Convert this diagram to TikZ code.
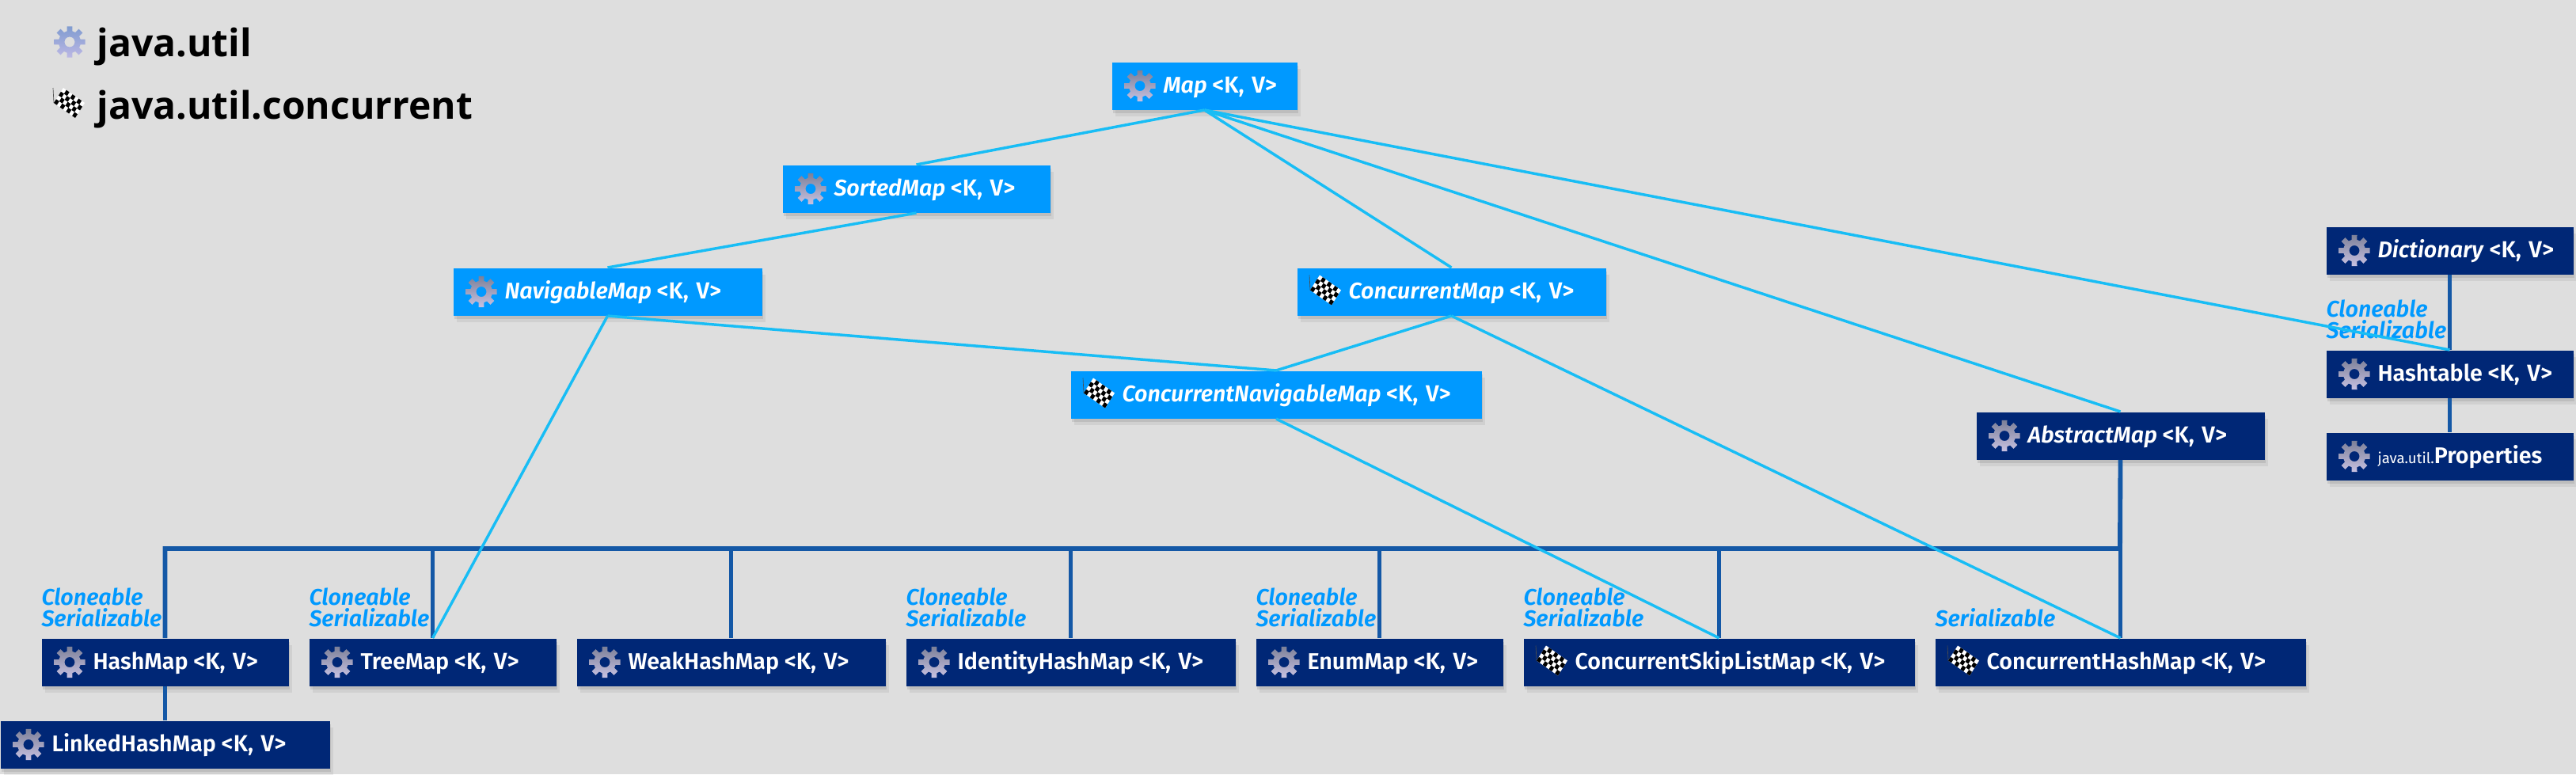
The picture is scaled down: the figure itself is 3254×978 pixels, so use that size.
\documentclass[tikz,border=0pt]{standalone}
\usepackage{fontspec}
\setmainfont{Fira Sans}[BoldFont={Fira Sans SemiBold},BoldItalicFont={Fira Sans SemiBold Italic}]
\newfontfamily\legendfont{Open Sans}
\usetikzlibrary{shadows}

\definecolor{pagegray}{HTML}{DEDEDE}
\definecolor{ifaceblue}{HTML}{0099FF}
\definecolor{implnavy}{HTML}{002776}
\definecolor{skyline}{HTML}{18BDF5}
\definecolor{navyline}{HTML}{1458A6}
\definecolor{geartop}{HTML}{7C8098}
\definecolor{gearbottom}{HTML}{C8C2E2}

\tikzset{
  every picture/.style={line width=0.75pt},
  mapbox/.style={anchor=north west, minimum height=45pt, text width=#1*0.75pt, inner xsep=0pt, inner ysep=0pt,
    align=left, text height=18pt, text depth=4.5pt, text=white, font=\fontsize{21.5}{24}\selectfont\bfseries,
    execute at begin node=\hspace*{48.75pt},
    general shadow={shadow xshift=1pt, shadow yshift=-3pt, fill=black, opacity=0.09},
    general shadow={shadow xshift=3pt, shadow yshift=-6pt, fill=black, opacity=0.06}},
  ifacebox/.style={mapbox=#1, fill=ifaceblue},
  implbox/.style={mapbox=#1, fill=implnavy},
  tagtext/.style={anchor=south west, inner sep=0pt, align=left, text=ifaceblue,
    font=\fontsize{21.5}{20.5}\selectfont\bfseries\itshape, yshift=10pt},
  legendtext/.style={anchor=base west, inner sep=0pt, text=black, font=\legendfont\fontsize{36}{40}\selectfont\bfseries},
  skyedge/.style={draw=skyline, line width=2.6pt},
  navyedge/.style={draw=navyline, line width=4.4pt},
  navybranch/.style={draw=navyline, line width=3.2pt},
  gear/.pic={
    \shade [even odd rule, top color=geartop, bottom color=gearbottom, draw=none]
      (90-10:20) \foreach \a in {90,135,...,405} { -- (\a-10:20) -- (\a+10:20) -- (\a+14:14) -- (\a+31:14) } -- cycle
      (0,0) circle (6.5);
  },
  checkerflag/.pic={
    \draw [black!70, line width=0.5pt] (-19,0) -- (-20,19);
    \begin{scope}[cm={3.857,-2.714,3,4.75,(-19,0)}]
      \fill [white] (0,0) rectangle (7,4);
      \foreach \i in {0,...,6} \foreach \j in {0,...,3} {
        \pgfmathparse{int(mod(\i+\j,2))}
        \ifnum\pgfmathresult=0 \fill [black] (\i,\j) rectangle ++(1,1); \fi
      }
    \end{scope}
  }
}

\newcommand{\kv}[1]{\textit{#1}\hspace{5pt}{\fontsize{22}{24}\selectfont <K, V>}}
\newcommand{\kvplain}[1]{#1\hspace{5pt}{\fontsize{22}{24}\selectfont <K, V>}}

\begin{document}
\begin{tikzpicture}[x=0.75pt,y=0.75pt,yscale=-1,xscale=1]
    \path [fill=pagegray] (0,0) rectangle (3254,978);
    \useasboundingbox (0,0) rectangle (3254,978);

    % Legend
    \begin{scope}
      \definecolor{geartop}{HTML}{7F9BD0}
      \definecolor{gearbottom}{HTML}{BDB8E4}
      \path (88,53) pic {gear};
    \end{scope}
    \path (87,130) pic {checkerflag};
    \node (legendutil) [legendtext] at (122,71) {java.util};
    \node (legendconc) [legendtext] at (122,150) {java.util.concurrent};

    % Interfaces
    \node (map) [ifacebox=234] at (1404,78) {\kv{Map}};
    \node (sortedmap) [ifacebox=338] at (988,208) {\kv{SortedMap}};
    \node (navigablemap) [ifacebox=390] at (572,338) {\kv{NavigableMap}};
    \node (concurrentmap) [ifacebox=390] at (1638,338) {\kv{ConcurrentMap}};
    \node (concnavmap) [ifacebox=519] at (1352,468) {\kv{ConcurrentNavigableMap}};

    % Classes
    \node (abstractmap) [implbox=364] at (2496,520) {\kv{AbstractMap}};
    \node (dictionary) [implbox=312] at (2938,286) {\kv{Dictionary}};
    \node (hashtable) [implbox=312] at (2938,442) {\kvplain{Hashtable}};
    \node (properties) [implbox=312] at (2938,546) {{\fontsize{14}{16}\selectfont\mdseries java.util.}Properties};
    \node (hashmap) [implbox=312] at (52,806) {\kvplain{HashMap}};
    \node (linkedmap) [implbox=416] at (0,910) {\kvplain{LinkedHashMap}};
    \node (treemap) [implbox=312] at (390,806) {\kvplain{TreeMap}};
    \node (weakmap) [implbox=390] at (728,806) {\kvplain{WeakHashMap}};
    \node (identitymap) [implbox=416] at (1144,806) {\kvplain{IdentityHashMap}};
    \node (enummap) [implbox=312] at (1586,806) {\kvplain{EnumMap}};
    \node (skiplistmap) [implbox=494] at (1924,806) {\kvplain{ConcurrentSkipListMap}};
    \node (conchashmap) [implbox=468] at (2444,806) {\kvplain{ConcurrentHashMap}};

    % Icons
    \foreach \n in {map,sortedmap,navigablemap,abstractmap,dictionary,hashtable,properties,hashmap,linkedmap,treemap,weakmap,identitymap,enummap}
      \path (\n.west) ++(36,0) pic {gear};
    \foreach \n in {concurrentmap,concnavmap,skiplistmap,conchashmap}
      \path (\n.west) ++(36,-2) pic {checkerflag};

    % Implemented interfaces
    \node (hashtabletag) [tagtext] at (hashtable.north west) {Cloneable\\Serializable};
    \node (hashmaptag) [tagtext] at (hashmap.north west) {Cloneable\\Serializable};
    \node (treemaptag) [tagtext] at (treemap.north west) {Cloneable\\Serializable};
    \node (identitytag) [tagtext] at (identitymap.north west) {Cloneable\\Serializable};
    \node (enumtag) [tagtext] at (enummap.north west) {Cloneable\\Serializable};
    \node (skiplisttag) [tagtext] at (skiplistmap.north west) {Cloneable\\Serializable};
    \node (conchashtag) [tagtext] at (conchashmap.north west) {Serializable};

    % Class inheritance
    \coordinate (trunk) at (2678,693);
    \draw [navyedge] (abstractmap.south) -- (trunk) -| (hashmap.north);
    \foreach \n in {treemap,weakmap,identitymap,enummap,skiplistmap,conchashmap}
      \draw [navybranch] (\n.north) -- (\n.north |- trunk);
    \draw [navyedge] (hashmap.south) -- (linkedmap.north);
    \draw [navyedge] (dictionary.south) -- (hashtable.north);
    \draw [navyedge] (hashtable.south) -- (properties.north);

    % Interface links
    \draw [skyedge] (map.south) -- (sortedmap.north);
    \draw [skyedge] (map.south) -- (concurrentmap.north);
    \draw [skyedge] (map.south) -- (abstractmap.north);
    \draw [skyedge] (map.south) -- (hashtable.north);
    \draw [skyedge] (sortedmap.south) -- (navigablemap.north);
    \draw [skyedge] (navigablemap.south) -- (concnavmap.north);
    \draw [skyedge] (navigablemap.south) -- (treemap.north);
    \draw [skyedge] (concurrentmap.south) -- (concnavmap.north);
    \draw [skyedge] (concurrentmap.south) -- (conchashmap.north);
    \draw [skyedge] (concnavmap.south) -- (skiplistmap.north);

\end{tikzpicture}
\end{document}
